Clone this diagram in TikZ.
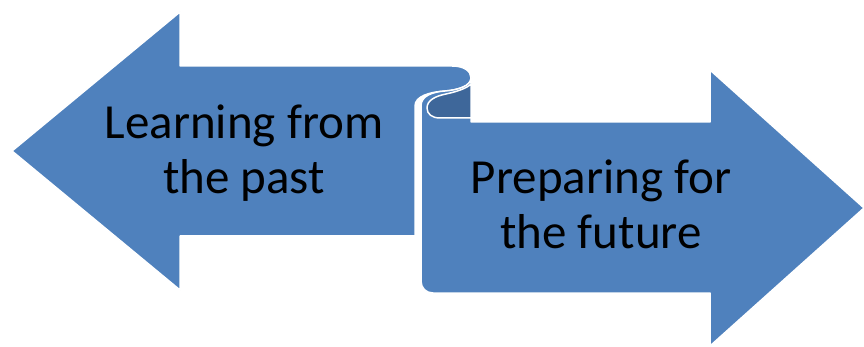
\documentclass[tikz,border=0pt]{standalone}
\usepackage{fontspec}
\setmainfont{Carlito}
\usepackage{tikz}

\definecolor{arrowblue}{RGB}{79,129,189}
\definecolor{curlblue}{RGB}{62,103,154}

\begin{document}
\begin{tikzpicture}[x=1pt, y=-1pt,
  arrowbody/.style={fill=arrowblue, draw=white, line width=1.5pt, line join=round},
  curlbody/.style={fill=curlblue, draw=white, line width=1.5pt, line join=round},
  lbl/.style={align=center, anchor=base, font=\fontsize{49}{55}\selectfont}]
\useasboundingbox (0,0) rectangle (864,347);

% Left arrow
\draw[arrowbody] (12,151) -- (180,12) -- (180,66) -- (452,66)
  .. controls (464,66) and (471,71) .. (471,78)
  .. controls (471,86) and (458,90) .. (445,91)
  .. controls (430,92) and (415,96) .. (415,106)
  -- (415,236) -- (180,236) -- (180,290) -- cycle;

% Right arrow
\draw[arrowbody] (421,281) -- (421,106)
  .. controls (421,96) and (432,92) .. (445,91)
  .. controls (458,90) and (471,86) .. (471,78)
  -- (471,122) -- (710,122) -- (710,70) -- (864,208) -- (710,346)
  -- (710,293) -- (433,293) .. controls (426,293) and (421,288) .. (421,281) -- cycle;

% inner side of the curl
\draw[curlbody] (471,84) .. controls (466,89) and (455,92) .. (446,94)
  .. controls (436,96) and (427,100) .. (427,108)
  .. controls (427,114) and (432,118) .. (440,118) -- (471,118) -- cycle;

% labels (base = last line)
\node[lbl] (past) at (244,194) {Learning from\\the past};
\node[lbl] (future) at (601,249) {Preparing for\\the future};
\end{tikzpicture}
\end{document}
